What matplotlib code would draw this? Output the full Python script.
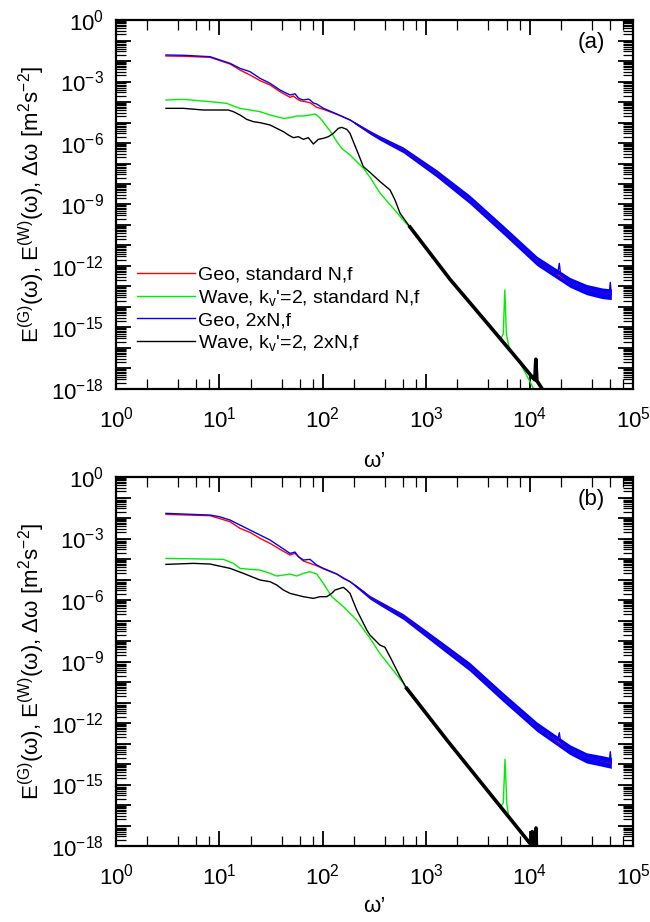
import numpy as np
import matplotlib
matplotlib.use("Agg")
import matplotlib.pyplot as plt
from matplotlib.ticker import LogLocator, FuncFormatter, NullFormatter

plt.rcParams['font.family'] = ['Liberation Sans', 'DejaVu Sans']
plt.rcParams['mathtext.fontset'] = 'custom'
plt.rcParams['mathtext.rm'] = 'Liberation Sans'
plt.rcParams['mathtext.it'] = 'Liberation Sans:italic'
plt.rcParams['mathtext.bf'] = 'Liberation Sans:bold'
plt.rcParams['axes.unicode_minus'] = False

# ---------------- data (log10 omega', log10 E) ----------------
labels = ["Geo, standard N,f", "Wave, k$_\\mathregular{v}$'=2, standard N,f",
          "Geo, 2xN,f", "Wave, k$_\\mathregular{v}$'=2, 2xN,f"]
panel_tags = ["(a)", "(b)"]

# panel (a)
a_red_x = [0.483, 0.651, 0.909, 1.103, 1.199, 1.296, 1.393, 1.490, 1.586, 1.683, 1.715, 1.750,
           1.780, 1.876, 1.941, 2.006, 2.135, 2.264, 2.393, 2.456, 2.554, 2.779, 3.10, 3.42,
           3.746, 4.07, 4.39, 4.55, 4.70, 4.79]
a_red_y = [-1.756, -1.770, -1.821, -2.146, -2.439, -2.683, -2.959, -3.171, -3.496, -3.772, -3.707, -3.85,
           -3.935, -4.033, -4.260, -4.358, -4.60, -4.878, -5.285, -5.48, -5.76, -6.34, -7.48, -8.75,
           -10.24, -11.75, -12.80, -13.15, -13.33, -13.38]
a_blue_x = [0.483, 0.651, 0.909, 1.103, 1.199, 1.296, 1.393, 1.490, 1.586, 1.683, 1.715, 1.731,
            1.763, 1.780, 1.812, 1.860, 1.876, 1.908, 1.941, 2.006, 2.135, 2.264, 2.393, 2.456,
            2.554, 2.779, 3.10, 3.42, 3.746, 4.07, 4.27, 4.287, 4.30, 4.39, 4.55, 4.70, 4.77, 4.78, 4.79]
a_blue_y = [-1.707, -1.720, -1.789, -2.114, -2.358, -2.520, -2.846, -3.089, -3.415, -3.659, -3.620, -3.600,
            -3.800, -3.850, -3.900, -3.860, -3.900, -4.050, -4.100, -4.309, -4.585, -4.878, -5.285, -5.48,
            -5.76, -6.34, -7.48, -8.75, -10.24, -11.75, -12.40, -11.87, -12.45, -12.80, -13.15, -13.33, -13.38, -12.80, -13.40]
a_band_x = [2.30, 2.456, 2.554, 2.779, 3.10, 3.42, 3.746, 4.07, 4.39, 4.55, 4.70, 4.79]
a_band_hi = [-4.94, -5.39, -5.65, -6.20, -7.30, -8.54, -10.02, -11.52, -12.56, -12.90, -13.07, -13.12]
a_band_lo = [-5.04, -5.57, -5.87, -6.48, -7.66, -8.96, -10.46, -11.98, -13.04, -13.40, -13.59, -13.64]
a_green_x = [0.483, 0.651, 0.909, 1.070, 1.135, 1.199, 1.296, 1.393, 1.490, 1.554, 1.619, 1.683,
             1.747, 1.812, 1.876, 1.925, 1.957, 1.989, 2.038, 2.086, 2.135, 2.182, 2.263, 2.328,
             2.393, 2.457, 2.554, 2.779, 2.84, 3.23, 3.60, 3.72, 3.745, 3.76, 3.775, 3.80, 3.90, 4.05]
a_green_y = [-3.902, -3.870, -3.984, -4.065, -4.195, -4.309, -4.390, -4.472, -4.634, -4.715, -4.797, -4.764,
             -4.683, -4.683, -4.634, -4.585, -4.700, -4.878, -5.203, -5.528, -5.935, -6.260, -6.585, -6.911,
             -7.236, -7.68, -8.45, -9.76, -10.12, -12.65, -14.85, -15.57, -15.30, -13.17, -15.30, -15.95, -16.65, -18.10]
a_black_x = [0.483, 0.651, 0.845, 1.086, 1.135, 1.199, 1.264, 1.328, 1.393, 1.490, 1.554, 1.619,
             1.667, 1.715, 1.763, 1.812, 1.860, 1.908, 1.957, 2.005, 2.054, 2.102, 2.150, 2.182,
             2.231, 2.263, 2.295, 2.328, 2.360, 2.392, 2.456, 2.554, 2.650, 2.698, 2.747, 2.843]
a_black_y = [-4.309, -4.309, -4.390, -4.390, -4.472, -4.634, -4.846, -4.959, -5.008, -5.122, -5.285, -5.447,
             -5.610, -5.740, -5.691, -5.821, -5.740, -6.049, -5.821, -5.772, -5.691, -5.528, -5.285, -5.236,
             -5.333, -5.528, -5.935, -6.341, -6.748, -7.154, -7.43, -7.886, -8.29, -8.78, -9.43, -10.10]
a_tail_x = [2.843, 3.23, 3.60, 3.90, 4.03, 4.05, 4.06, 4.07, 4.09, 4.16]
a_tail_y = [-10.10, -12.65, -14.85, -16.65, -17.45, -17.55, -16.55, -17.60, -17.75, -18.30]

# panel (b)
b_red_x = [0.483, 0.909, 1.103, 1.199, 1.296, 1.393, 1.490, 1.586, 1.683, 1.731, 1.812, 1.941,
           2.006, 2.135, 2.264, 2.393, 2.456, 2.554, 2.779, 3.10, 3.42, 3.74, 4.07, 4.39, 4.55, 4.70, 4.79]
b_red_y = [-1.821, -1.886, -2.179, -2.504, -2.699, -2.992, -3.236, -3.528, -3.805, -3.724, -4.098, -4.325,
           -4.48, -4.732, -5.106, -5.593, -5.87, -6.16, -6.81, -8.03, -9.25, -10.72, -12.18, -13.30, -13.70, -13.85, -13.95]
b_blue_x = [0.483, 0.909, 1.000, 1.103, 1.199, 1.296, 1.393, 1.490, 1.586, 1.683, 1.731, 1.763,
            1.812, 1.876, 1.941, 2.006, 2.135, 2.199, 2.264, 2.393, 2.456, 2.554, 2.779, 3.10,
            3.42, 3.74, 4.07, 4.27, 4.287, 4.30, 4.39, 4.55, 4.70, 4.77, 4.78, 4.79]
b_blue_y = [-1.772, -1.854, -1.935, -2.098, -2.341, -2.585, -2.829, -3.073, -3.398, -3.724, -3.659, -3.886,
            -4.049, -4.016, -4.293, -4.455, -4.732, -4.943, -5.106, -5.593, -5.87, -6.16, -6.81, -8.03,
            -9.25, -10.72, -12.18, -12.85, -12.47, -12.95, -13.30, -13.70, -13.85, -13.90, -13.40, -13.95]
b_band_x = [2.30, 2.456, 2.554, 2.779, 3.10, 3.42, 3.74, 4.07, 4.39, 4.55, 4.70, 4.79]
b_band_hi = [-5.19, -5.78, -6.05, -6.67, -7.85, -9.04, -10.50, -11.95, -13.06, -13.45, -13.59, -13.69]
b_band_lo = [-5.29, -5.96, -6.27, -6.95, -8.21, -9.46, -10.94, -12.41, -13.54, -13.95, -14.11, -14.21]
b_green_x = [0.483, 1.038, 1.135, 1.199, 1.296, 1.393, 1.490, 1.554, 1.619, 1.683, 1.747, 1.812,
             1.876, 1.941, 2.005, 2.086, 2.199, 2.328, 2.457, 2.554, 2.779, 2.811, 3.20, 3.60,
             3.72, 3.745, 3.762, 3.78, 3.80, 3.90, 4.04]
b_green_y = [-3.967, -4.016, -4.211, -4.455, -4.504, -4.537, -4.699, -4.829, -4.780, -4.732, -4.829, -4.699,
             -4.618, -4.732, -5.187, -5.837, -6.325, -6.976, -7.87, -8.62, -10.06, -10.39, -12.83, -15.34,
             -16.09, -15.90, -13.77, -16.00, -16.59, -17.22, -18.10]
b_black_x = [0.483, 0.748, 0.909, 1.103, 1.232, 1.328, 1.393, 1.490, 1.554, 1.619, 1.683, 1.747,
             1.812, 1.908, 1.973, 2.038, 2.086, 2.118, 2.167, 2.199, 2.231, 2.263, 2.328, 2.425,
             2.456, 2.553, 2.600, 2.650, 2.747, 2.811]
b_black_y = [-4.260, -4.211, -4.244, -4.455, -4.699, -4.894, -5.024, -5.106, -5.268, -5.512, -5.675, -5.756,
             -5.837, -5.919, -5.837, -5.837, -5.675, -5.512, -5.431, -5.382, -5.512, -5.675, -6.488, -7.463,
             -7.71, -8.20, -8.30, -8.77, -9.74, -10.31]
b_tail_x = [2.811, 3.20, 3.60, 3.90, 4.00, 4.02, 4.025, 4.03, 4.05, 4.058, 4.062, 4.066, 4.08]
b_tail_y = [-10.31, -12.83, -15.34, -17.22, -17.85, -17.97, -17.30, -18.05, -18.15, -18.20, -17.12, -18.25, -18.40]

panels = [
    dict(red=(a_red_x, a_red_y), blue=(a_blue_x, a_blue_y), band=(a_band_x, a_band_lo, a_band_hi),
         green=(a_green_x, a_green_y), black=(a_black_x, a_black_y), tail=(a_tail_x, a_tail_y)),
    dict(red=(b_red_x, b_red_y), blue=(b_blue_x, b_blue_y), band=(b_band_x, b_band_lo, b_band_hi),
         green=(b_green_x, b_green_y), black=(b_black_x, b_black_y), tail=(b_tail_x, b_tail_y)),
]

def p(v):
    return 10.0 ** np.asarray(v, dtype=float)

fig = plt.figure(figsize=(6.5, 9.22), dpi=100)
axes_rects = [[0.1785, 0.5781, 0.7954, 0.4002], [0.1785, 0.0824, 0.7954, 0.4002]]

def yfmt(v, pos):
    e = int(round(np.log10(v)))
    if e % 3 == 0:
        return "$\\mathdefault{10^{%d}}$" % e
    return ""

def xfmt(v, pos):
    e = int(round(np.log10(v)))
    return "$\\mathdefault{10^{%d}}$" % e

ylabel = ("E$^{\\mathregular{(G)}}$(ω), E$^{\\mathregular{(W)}}$(ω), Δω "
          "[m$^{\\mathregular{2}}$s$^{\\mathregular{-2}}$]")

for i, (d, rect) in enumerate(zip(panels, axes_rects)):
    ax = fig.add_axes(rect)
    ax.set_xscale('log')
    ax.set_yscale('log')
    lr, = ax.plot(p(d['red'][0]), p(d['red'][1]), color='#ff0000', lw=1.0)
    lg, = ax.plot(p(d['green'][0]), p(d['green'][1]), color='#00ee00', lw=1.0)
    bx, blo, bhi = d['band']
    ax.fill_between(p(bx), p(blo), p(bhi), color='#0000ff', lw=0)
    lb, = ax.plot(p(d['blue'][0]), p(d['blue'][1]), color='#0000ff', lw=1.0)
    lk, = ax.plot(p(d['black'][0]), p(d['black'][1]), color='black', lw=1.0)
    ax.plot(p(d['tail'][0]), p(d['tail'][1]), color='black', lw=2.6)
    ax.set_xlim(1, 1e5)
    ax.set_ylim(1e-18, 1)

    ax.xaxis.set_major_locator(LogLocator(base=10, numticks=20))
    ax.xaxis.set_minor_locator(LogLocator(base=10, subs=[2, 4, 6, 8], numticks=20))
    ax.xaxis.set_major_formatter(FuncFormatter(xfmt))
    ax.xaxis.set_minor_formatter(NullFormatter())
    ax.yaxis.set_major_locator(LogLocator(base=10, numticks=40))
    ax.yaxis.set_minor_locator(LogLocator(base=10, subs=np.arange(2, 10), numticks=40))
    ax.yaxis.set_major_formatter(FuncFormatter(yfmt))
    ax.yaxis.set_minor_formatter(NullFormatter())
    ax.tick_params(which='both', direction='in', top=True, right=True, labelsize=16)
    ax.tick_params(which='major', length=11, width=1.3)
    ax.tick_params(axis='x', which='major', pad=13)
    ax.tick_params(axis='y', which='major', pad=9)
    ax.tick_params(which='minor', length=7, width=0.9)
    for s in ax.spines.values():
        s.set_linewidth(1.6)

    ax.set_xlabel("ω’", fontsize=16, labelpad=4 if i == 1 else 13)
    ax.set_ylabel(ylabel, fontsize=16, labelpad=3)
    ax.text(0.946, 0.938, panel_tags[i], transform=ax.transAxes, ha='right', va='center', fontsize=16)

    if i == 0:
        ax.legend([lr, lg, lb, lk], labels, loc='upper left', bbox_to_anchor=(0.04, 0.333),
                  frameon=False, fontsize=14, handlelength=3.0, handletextpad=0.15,
                  labelspacing=0.2, borderpad=0, borderaxespad=0)

fig.savefig("out.png", dpi=100)
